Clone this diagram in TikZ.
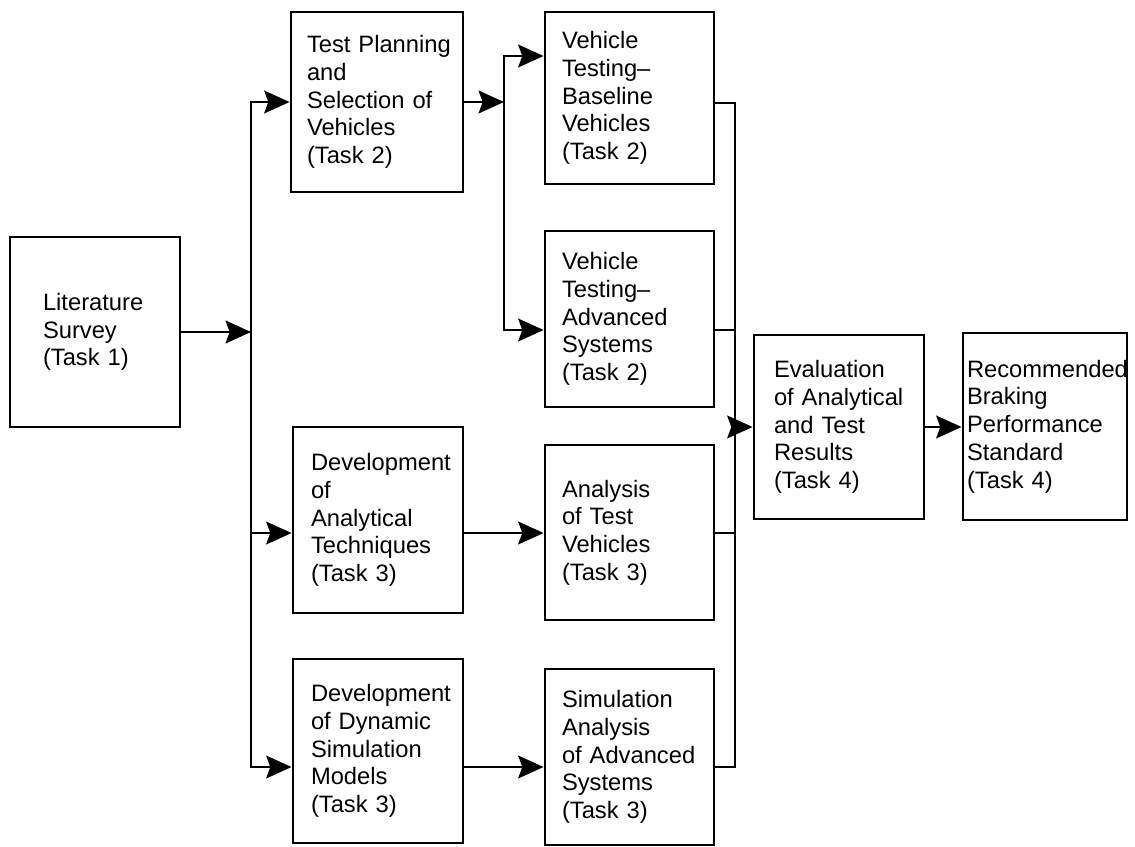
\documentclass[tikz,border=0pt]{standalone}
\usepackage{fontspec}
\setmainfont{Liberation Sans}
\usetikzlibrary{arrows.meta}
\hyphenpenalty=10000
\exhyphenpenalty=10000
\begin{document}
\begin{tikzpicture}[x=0.75pt,y=-0.75pt,
  box/.style={draw, line width=2.1pt, align=left, inner ysep=0pt,
    font=\fontsize{17.8pt}{20.8pt}\selectfont},
  line/.style={line width=2.1pt},
  arr/.style={line width=2.1pt, -{Stealth[length=19pt,width=17pt,inset=3pt]}}]
\fill[white] (0,0) rectangle (1135,846);
% boxes
\node[box, minimum width=127.5pt, minimum height=142.5pt, inner xsep=24.75pt, text width=78pt] (lit) at (95,332) {Literature\\Survey\\(Task~1)};
\node[box, minimum width=129pt, minimum height=135pt, inner xsep=12pt, text width=105pt] (tp) at (377,102) {\mbox{Test Planning}\\and\\Selection~of\\Vehicles\\(Task~2)};
\node[box, minimum width=126.75pt, minimum height=129pt, inner xsep=12.75pt, text width=101.25pt] (vb) at (629.5,98) {Vehicle\\Testing–\\Baseline\\Vehicles\\(Task~2)};
\node[box, minimum width=126.75pt, minimum height=132pt, inner xsep=12.75pt, text width=101.25pt] (va) at (629.5,319) {Vehicle\\Testing–\\Advanced\\Systems\\(Task~2)};
\node[box, minimum width=127.5pt, minimum height=139.5pt, inner xsep=13.5pt, text width=100.5pt] (da) at (378,520) {Development\\of\\Analytical\\Techniques\\(Task~3)};
\node[box, minimum width=127.5pt, minimum height=138pt, inner xsep=13.5pt, text width=100.5pt] (dd) at (378,751) {Development\\of~Dynamic\\Simulation\\Models\\(Task~3)};
\node[box, minimum width=126.75pt, minimum height=131.25pt, inner xsep=12.75pt, text width=101.25pt] (atv) at (629.5,532.5) {Analysis\\of~Test\\Vehicles\\(Task~3)};
\node[box, minimum width=126.75pt, minimum height=132pt, inner xsep=12.75pt, text width=101.25pt] (sa) at (629.5,757) {Simulation\\Analysis\\of~Advanced\\Systems\\(Task~3)};
\node[box, minimum width=127.5pt, minimum height=138pt, inner xsep=15pt, text width=97.5pt] (ev) at (839,427) {Evaluation\\of~Analytical\\and~Test\\Results\\(Task~4)};
\node[box, minimum width=123pt, minimum height=140.25pt, inner xsep=3pt, text width=117pt] (rec) at (1045,426.5) {Recommended\\Braking\\Performance\\Standard\\(Task~4)};
% row levels and junctions
\coordinate (rB) at (0,56);
\coordinate (rA) at (0,103);
\coordinate (rC) at (0,330);
\coordinate (rD) at (0,533);
\coordinate (rE) at (0,767);
\coordinate (j1) at (251,332);
\coordinate (j2) at (504,102);
\coordinate (j3) at (735,427);
% connectors
\draw[arr] (lit.east) -- (j1);
\draw[arr] (j1) |- (tp.west);
\draw[arr] (j1) |- (rD -| da.west);
\draw[arr] (j1) |- (rE -| dd.west);
\draw[arr] (tp.east) -- (j2);
\draw[arr] (j2) |- (rB -| vb.west);
\draw[arr] (j2) |- (rC -| va.west);
\draw[arr] (rD -| da.east) -- (rD -| atv.west);
\draw[arr] (rE -| dd.east) -- (rE -| sa.west);
\draw[line] (rA -| vb.east) -| (j3);
\draw[line] (rE -| sa.east) -| (j3);
\draw[line] (rC -| va.east) -- (rC -| j3);
\draw[line] (rD -| atv.east) -- (rD -| j3);
\draw[arr] (j3) -- (ev.west);
\draw[arr] (ev.east) -- (ev.east -| rec.west);
\end{tikzpicture}
\end{document}
